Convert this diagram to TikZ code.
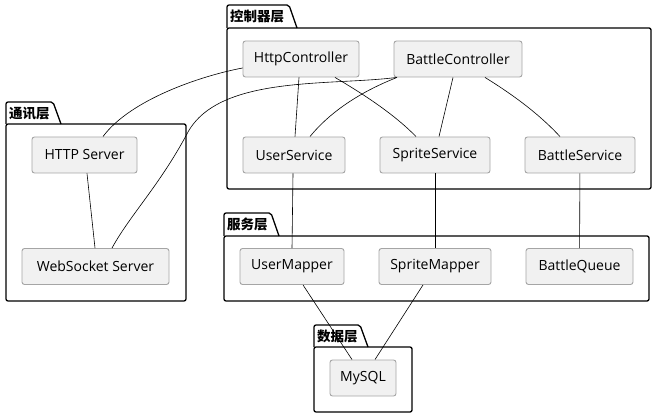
\documentclass[tikz,border=0pt]{standalone}
\usepackage{fontspec}
\setmainfont{Open Sans}
\newfontfamily\cjk{Noto Sans CJK SC}
\begin{document}
\begin{tikzpicture}[x=1pt,y=-1pt,
  comp/.style={draw={rgb,255:red,165;green,165;blue,165},fill={rgb,255:red,241;green,241;blue,241},
    rounded corners=2.5pt,line width=0.9pt,inner sep=0pt,minimum height=36pt,
    font=\fontsize{14}{16}\selectfont,text={rgb,255:red,0;green,0;blue,0}},
  pkgline/.style={draw=black,line width=1.3pt,rounded corners=2pt},
  pkglabel/.style={anchor=west,inner sep=0pt,font=\cjk\bfseries\fontsize{13.5}{15}\selectfont},
  link/.style={draw=black,line width=0.6pt}]
\useasboundingbox (0,0) rectangle (658,419);
% packages
\newcommand\mypkg[8]{%
  \draw[pkgline] (#2,#5) -- (#2,#3) -- (#4-8,#3) -- (#4,#5);
  \draw[pkgline] (#2,#5) rectangle (#6,#7);
  \node[pkglabel] (#8) at (#2+3,#3+11.5) {#1};}
\mypkg{控制器层}{227}{5}{297}{28}{651}{189}{lctrl}
\mypkg{通讯层}{6}{102}{61}{124}{186}{301}{lcomm}
\mypkg{服务层}{224}{213}{279}{236}{649}{301}{lsvc}
\mypkg{数据层}{314}{325}{368}{347}{412}{412}{ldata}
% nodes
\node[comp,minimum width=116pt] (hc) at (301,59) {HttpController};
\node[comp,minimum width=128pt] (bc) at (458,59) {BattleController};
\node[comp,minimum width=102pt] (us) at (294,155) {UserService};
\node[comp,minimum width=110pt] (ss) at (435,155) {SpriteService};
\node[comp,minimum width=110pt] (bs) at (580,155) {BattleService};
\node[comp,minimum width=105pt] (hs) at (84.5,155) {HTTP Server};
\node[comp,minimum width=147pt] (ws) at (95.5,266.5) {WebSocket Server};
\node[comp,minimum width=104pt] (um) at (292,266.5) {UserMapper};
\node[comp,minimum width=112pt] (sm) at (435,266.5) {SpriteMapper};
\node[comp,minimum width=107pt] (bq) at (579.5,266.5) {BattleQueue};
\node[comp,minimum width=66pt] (db) at (363,378) {MySQL};
% links
\draw[link] (hc.west|-0,68) .. controls (200,76) and (130,100) .. (hs.north-|103,0);
\draw[link] (bc.south west) ++(3,0) .. controls (330,86) and (220,75) .. (188,132) .. controls (160,185) and (130,215) .. (ws.north-|112,0);
\draw[link] (hc.south-|299,0) -- (us.north-|295,0);
\draw[link] (hc.south-|335,0) .. controls (365,95) and (395,115) .. (ss.north-|416,0);
\draw[link] (bc.south-|397,0) .. controls (360,92) and (330,112) .. (us.north-|310,0);
\draw[link] (bc.south-|453,0) -- (ss.north-|439,0);
\draw[link] (bc.south-|485,0) .. controls (515,96) and (540,115) .. (bs.north-|560,0);
\draw[link] (hs.south-|87,0) -- (ws.north-|95,0);
\draw[link] (us.south-|293,0) -- (um.north-|292,0);
\draw[link] (ss) -- (sm);
\draw[link] (bs) -- (bq);
\draw[link] (um.south-|303,0) -- (db.north-|352,0);
\draw[link] (sm.south-|423,0) -- (db.north-|375,0);
\end{tikzpicture}
\end{document}
